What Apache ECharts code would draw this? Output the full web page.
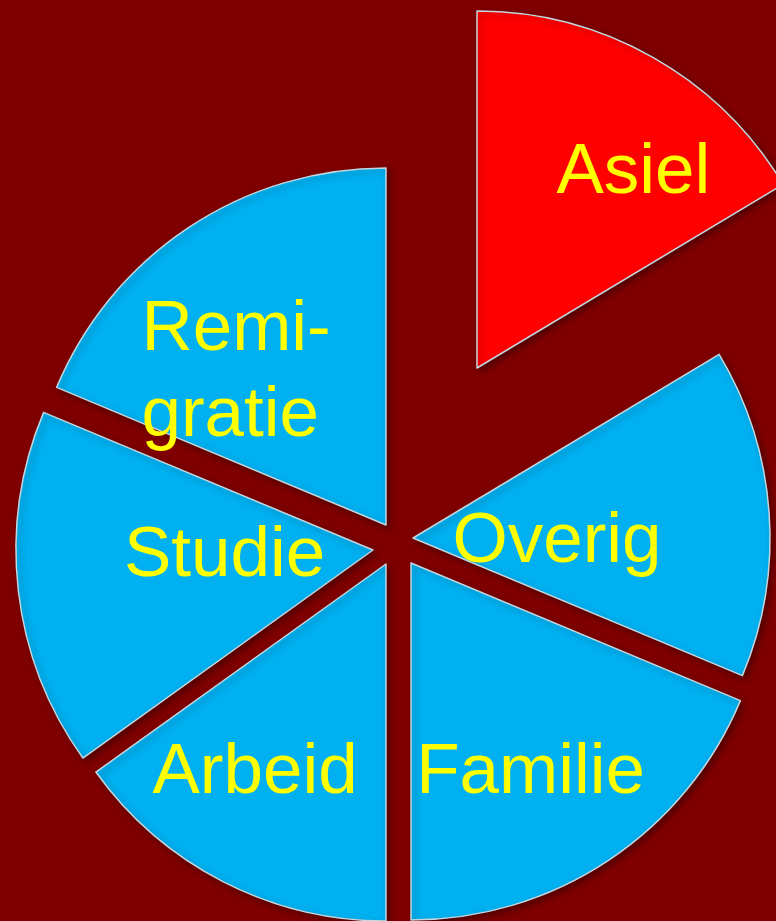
<!DOCTYPE html>
<html><head><meta charset="utf-8">
<script src="https://cdn.jsdelivr.net/npm/echarts@6/dist/echarts.min.js"></script>
<style>html,body{margin:0;padding:0;background:#7F0000}#c{width:776px;height:921px}</style>
</head><body><div id="c"></div>
<script>
const categories = ['Asiel', 'Overig', 'Familie', 'Arbeid', 'Studie', 'Remigratie'];
const labelTexts = ['Asiel', 'Overig', 'Familie', 'Arbeid', 'Studie', '{w|Remi-}\n{w|gratie}'];
const values = [16.4, 14.9, 18.7, 15.1, 16.2, 18.7];

// styling / layout (not data)
const sliceColors = ['#FF0000', '#00B0F0', '#00B0F0', '#00B0F0', '#00B0F0', '#00B0F0'];
const pieCenter = [398, 545];
const pieRadius = 357;
const explode = [[79, -177], [15, -7], [13, 18], [-12, 19], [-25, 5], [-12, -20]];
const labelShift = [[67, -37], [-37, 18], [19, 59], [-48, 48], [32, -14], [-49, -1]];

const chart = echarts.init(document.getElementById('c'), null, {renderer: 'canvas'});

const series = categories.map((cat, i) => ({
  type: 'pie',
  center: [pieCenter[0] + explode[i][0], pieCenter[1] + explode[i][1]],
  radius: [0, pieRadius],
  startAngle: 90,
  clockwise: true,
  avoidLabelOverlap: false,
  silent: true,
  animation: false,
  emphasis: {disabled: true},
  labelLayout: {dx: labelShift[i][0], dy: labelShift[i][1]},
  label: {
    show: true,
    position: 'inside',
    color: '#FFFF00',
    fontSize: 71,
    lineHeight: 86,
    fontFamily: 'Liberation Sans, Arial, sans-serif',
    formatter: (p) => labelTexts[p.dataIndex],
    rich: {
      w: {width: 190, align: 'left', color: '#FFFF00', fontSize: 71, lineHeight: 86,
          fontFamily: 'Liberation Sans, Arial, sans-serif'}
    }
  },
  labelLine: {show: false},
  data: categories.map((c, j) => ({
    name: c,
    value: values[j],
    itemStyle: j === i ? {
      color: sliceColors[j],
      borderColor: '#C4D6DE',
      borderWidth: 1.5,
      shadowColor: 'rgba(0,0,0,0.35)',
      shadowBlur: 6,
      shadowOffsetX: 3,
      shadowOffsetY: 3
    } : {color: 'transparent', borderWidth: 0, shadowBlur: 0},
    label: {show: j === i}
  }))
}));

chart.setOption({
  backgroundColor: '#7F0000',
  animation: false,
  series: series
});
</script>
</body></html>
